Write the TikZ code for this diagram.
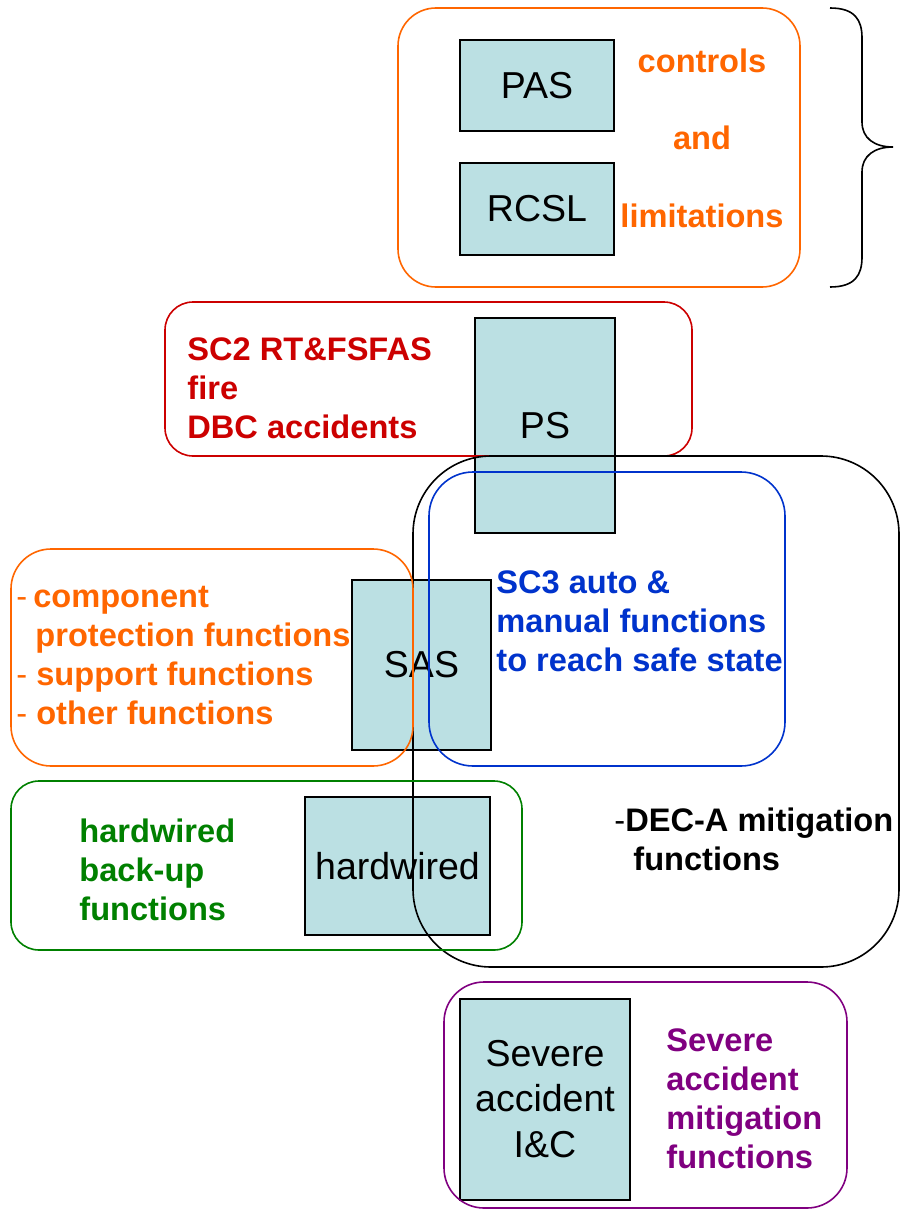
\documentclass[tikz,border=0pt]{standalone}
\usepackage{fontspec}
\setmainfont{Liberation Sans}
\usetikzlibrary{positioning}
\definecolor{boxfill}{RGB}{187,224,227}
\definecolor{orng}{RGB}{255,102,0}
\definecolor{dred}{RGB}{204,0,0}
\definecolor{dblue}{RGB}{0,51,204}
\definecolor{dgreen}{RGB}{0,128,0}
\definecolor{purp}{RGB}{128,0,128}
\tikzset{
  sys/.style={draw,line width=1pt,fill=boxfill,inner sep=0pt,align=center,font=\fontsize{18.75}{22.7}\selectfont},
  frm/.style={line width=0.8pt,rounded corners=#1},
  frm/.default=18pt,
  lbl/.style={anchor=north west,inner sep=0pt,align=left,font=\fontsize{16.3}{19.5}\selectfont\bfseries},
}
\begin{document}
\begin{tikzpicture}[x=0.5pt,y=-0.5pt]
  \useasboundingbox (0,0) rectangle (900,1210);
  % I&C systems
  \node[sys,minimum width=77pt,minimum height=45.5pt] (pas) at (537,85.5) {PAS};
  \node[sys,minimum width=77pt,minimum height=46pt] (rcsl) at (537,209) {RCSL};
  \node[sys,minimum width=70pt,minimum height=107.5pt] (ps) at (545,425.5) {PS};
  \node[sys,minimum width=69.5pt,minimum height=85pt] (sas) at (421.5,665) {SAS};
  \node[sys,minimum width=92.5pt,minimum height=69pt] (hw) at (397.5,866) {hardwired};
  \node[sys,minimum width=85pt,minimum height=100.5pt] (saic) at (545,1099) {Severe\\accident\\I\&C};
  % function groups
  \draw[frm=19pt,orng] (398,8) rectangle (800,287);
  \draw[frm=14pt,dred] (165,302) rectangle (692,456);
  \draw[frm=39pt,black] (413,456) rectangle (899,967);
  \draw[frm=22pt,dblue] (429,472) rectangle (785,766);
  \draw[frm=20pt,orng] (11,549) rectangle (413,766);
  \draw[frm=14pt,dgreen] (11,781) rectangle (522,950);
  \draw[frm=20pt,purp] (444,982) rectangle (847,1208);
  % labels
  \node[lbl,anchor=base,orng] (ctl) at (702,72) {controls};
  \node[lbl,anchor=base,orng] (and) at (702,149) {and};
  \node[lbl,anchor=base,orng] (lim) at (702,227) {limitations};
  \node[lbl,dred] (sc2) at (187,337) {SC2 RT\&FSFAS\\fire\\DBC accidents};
  \node[lbl,dblue] (sc3) at (496,570) {SC3 auto \&\\manual functions\\to reach safe state};
  \node[lbl,orng] (oth) at (16,586) {{\mdseries-}\hspace{3pt}component\\\hspace{9.5pt}protection functions\\{\mdseries-} support functions\\{\mdseries-} other functions};
  \node[lbl,dgreen] (hwf) at (79,818) {hardwired\\back-up\\functions};
  \node[lbl] (deca) at (614,807) {{\mdseries-}DEC-A mitigation\\\hspace{9.5pt}functions};
  \node[lbl,purp] (sam) at (666,1028) {Severe\\accident\\mitigation\\functions};
  % brace
  \draw[line width=0.8pt] (830,8) .. controls (855,8) and (862,20) .. (862,38) -- (862,122)
    .. controls (862,138) and (874,147) .. (893,147)
    .. controls (874,147) and (862,156) .. (862,172) -- (862,257)
    .. controls (862,275) and (855,287) .. (830,287);
\end{tikzpicture}
\end{document}
